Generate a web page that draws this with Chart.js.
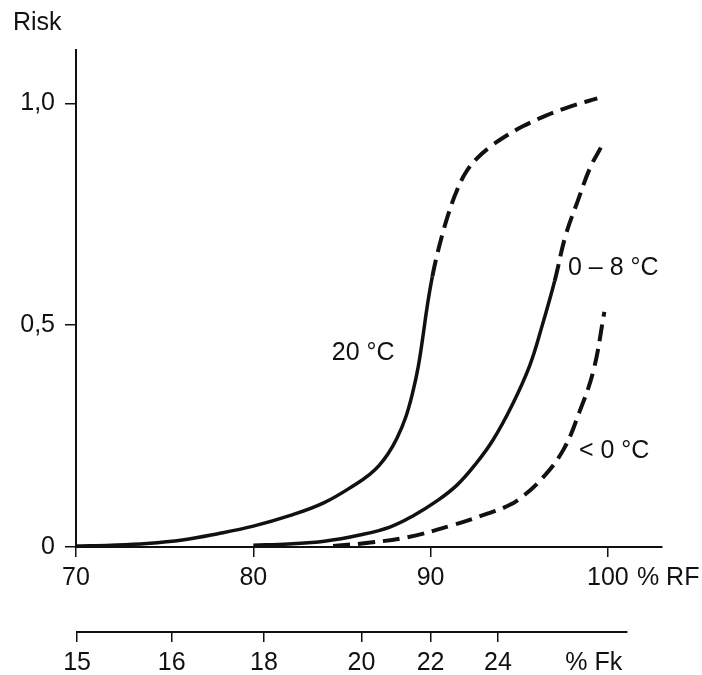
<!DOCTYPE html>
<html>
<head>
<meta charset="utf-8">
<script src="https://cdn.jsdelivr.net/npm/chart.js@4.4.0/dist/chart.umd.min.js"></script>
<style>
  html, body { margin: 0; padding: 0; background: #fff; }
  #wrap { width: 702px; height: 675px; }
</style>
</head>
<body>
<div id="wrap"><canvas id="riskChart"></canvas></div>
<script>
// 20 °C curve (solid up to ~90 % RF, dashed above)
const rf20 = [70, 72, 74, 76, 78, 80, 82, 84, 85.8, 86.6, 87.1, 87.6, 88.1, 88.6, 89.0, 89.3, 89.55, 89.8, 90.1, 90.5, 91.0, 91.5, 92.0, 92.6, 93.3, 94.2, 95.2, 96.5, 97.9, 99.4]
const risk20 = [0.002, 0.004, 0.008, 0.016, 0.03, 0.047, 0.07, 0.1, 0.142, 0.165, 0.184, 0.21, 0.245, 0.293, 0.35, 0.406, 0.47, 0.54, 0.61, 0.68, 0.75, 0.805, 0.845, 0.875, 0.9, 0.925, 0.948, 0.972, 0.993, 1.011]
const dashFrom20 = 90.1

// 0 - 8 °C curve
const rf08 = [80, 82, 84, 86, 87.7, 89, 90.4, 91.5, 92.5, 93.5, 94.6, 95.6, 96.3, 97.0, 97.6, 98.3, 99.0, 99.6]
const risk08 = [0.004, 0.007, 0.013, 0.027, 0.045, 0.07, 0.105, 0.14, 0.185, 0.24, 0.32, 0.41, 0.5, 0.6, 0.7, 0.78, 0.855, 0.9]
const dashFrom08 = 97.0

// < 0 °C curve (dashed throughout)
const rfBelow0 = [84.5, 86.6, 88.7, 91.3, 93.2, 94.2, 95.0, 96.3, 97.5, 98.4, 99.2, 99.8]
const riskBelow0 = [0.002, 0.01, 0.022, 0.05, 0.075, 0.09, 0.108, 0.155, 0.22, 0.305, 0.4, 0.53]

const curveNames = ['20 °C', '0 – 8 °C', '< 0 °C']

// axes
const rfTicks = [70, 80, 90, 100]
const riskTicks = [0, 0.5, 1.0]
const fkTicks = [15, 16, 18, 20, 22, 24]
const fkAtRf = [70.06, 75.4, 80.6, 86.1, 90.0, 93.8]

const FONT = '"Liberation Sans", Arial, Helvetica, sans-serif'
const INK = '#111'
const DASH = [17, 8]

const toPoints = (xs, ys) => xs.map((x, i) => ({ x: x, y: ys[i] }))

const dashAfter = (from) => ({
    borderDash: ctx => ctx.p0.parsed.x >= from ? DASH : undefined,
    borderWidth: ctx => ctx.p0.parsed.x >= from ? 4 : undefined
})

// curve labels and unit labels, plus the short second (% Fk) axis line
const annotate = {
    id: 'annotate',
    afterDraw(chart) {
        const { ctx } = chart
        const { x, y, x2 } = chart.scales
        ctx.save()
        ctx.fillStyle = INK
        ctx.strokeStyle = INK
        ctx.font = '25px ' + FONT
        ctx.textBaseline = 'middle'

        ctx.lineWidth = 2
        ctx.beginPath()
        ctx.moveTo(x2.getPixelForValue(70), x2.top)
        ctx.lineTo(x2.getPixelForValue(101.1), x2.top)
        ctx.stroke()

        ctx.textAlign = 'left'
        ctx.fillText('% RF', x.getPixelForValue(100) + 29, x.top + 31)
        ctx.textAlign = 'center'
        ctx.fillText('% Fk', x2.getPixelForValue(99.2), x2.top + 31)

        const spots = [[86.2, 0.437], [100.3, 0.628], [100.35, 0.215]]
        curveNames.forEach((name, i) => {
            ctx.fillText(name, x.getPixelForValue(spots[i][0]), y.getPixelForValue(spots[i][1]))
        })
        ctx.restore()
    }
}

const tickFont = { family: FONT, size: 25 }

const ctxRisk = document.getElementById('riskChart')
const riskChart = new Chart(ctxRisk, {
    type: 'line',
    data: {
        datasets: [
            {
                label: curveNames[0],
                data: toPoints(rf20, risk20),
                borderColor: INK,
                segment: dashAfter(dashFrom20)
            },
            {
                label: curveNames[1],
                data: toPoints(rf08, risk08),
                borderColor: INK,
                segment: dashAfter(dashFrom08)
            },
            {
                label: curveNames[2],
                data: toPoints(rfBelow0, riskBelow0),
                borderColor: INK,
                borderDash: DASH,
                borderWidth: 4
            }
        ]
    },
    options: {
        responsive: true,
        maintainAspectRatio: false,
        animation: false,
        layout: { padding: { left: 13, right: 40, top: 0, bottom: 0 } },
        datasets: {
            line: {
                borderWidth: 3.5,
                pointRadius: 0,
                fill: false,
                tension: 0.4
            }
        },
        plugins: {
            legend: { display: false },
            tooltip: { enabled: false },
            title: {
                display: true,
                text: 'Risk',
                align: 'start',
                color: INK,
                font: { family: FONT, size: 25, weight: 'normal' },
                padding: { top: 8, bottom: 12 }
            }
        },
        scales: {
            x: {
                type: 'linear',
                position: 'bottom',
                min: 70,
                max: 103.05,
                afterBuildTicks: s => { s.ticks = rfTicks.map(v => ({ value: v })) },
                afterFit: s => { s.height = 85 },
                ticks: { color: INK, font: tickFont, padding: 6, maxRotation: 0, autoSkip: false },
                grid: { drawOnChartArea: false, tickLength: 10, color: INK, lineWidth: 1.5 },
                border: { color: INK, width: 2 }
            },
            x2: {
                type: 'linear',
                position: 'bottom',
                min: 70,
                max: 103.05,
                afterBuildTicks: s => { s.ticks = fkAtRf.map(v => ({ value: v })) },
                afterFit: s => { s.height = 43 },
                ticks: {
                    color: INK, font: tickFont, padding: 6, maxRotation: 0, autoSkip: false,
                    callback: (v, i) => fkTicks[i]
                },
                grid: { drawOnChartArea: false, tickLength: 10, color: INK, lineWidth: 1.5 },
                border: { display: false }
            },
            y: {
                min: 0,
                max: 1.12,
                afterBuildTicks: s => { s.ticks = riskTicks.map(v => ({ value: v })) },
                afterFit: s => { s.width = 63 },
                ticks: {
                    color: INK, font: tickFont, padding: 10,
                    callback: v => v === 0 ? '0' : v.toFixed(1).replace('.', ',')
                },
                grid: { drawOnChartArea: false, tickLength: 11, color: INK, lineWidth: 1.5 },
                border: { color: INK, width: 2 }
            }
        }
    },
    plugins: [annotate]
})
</script>
</body>
</html>
